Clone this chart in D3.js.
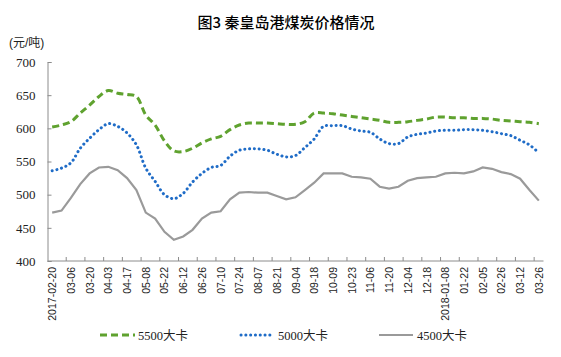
<!DOCTYPE html>
<html><head><meta charset="utf-8">
<script src="https://cdn.jsdelivr.net/npm/d3@7"></script>
<style>
html,body{margin:0;padding:0;background:#fff;}
svg{display:block;}
</style></head>
<body>
<svg id="chart" width="561" height="357"></svg>
<script>
const title = "图3 秦皇岛港煤炭价格情况";
const unitLabel = "(元/吨)";
const categories = [
 "2017-02-20","2017-02-27","2017-03-06","2017-03-13","2017-03-20","2017-03-27","2017-04-03","2017-04-10","2017-04-17","2017-04-24",
 "2017-05-08","2017-05-15","2017-05-22","2017-06-05","2017-06-12","2017-06-19","2017-06-26","2017-07-03","2017-07-10","2017-07-17",
 "2017-07-24","2017-07-31","2017-08-07","2017-08-14","2017-08-21","2017-08-28","2017-09-04","2017-09-11","2017-09-18","2017-09-25",
 "2017-10-09","2017-10-16","2017-10-23","2017-10-30","2017-11-06","2017-11-13","2017-11-20","2017-11-27","2017-12-04","2017-12-11",
 "2017-12-18","2017-12-25","2018-01-08","2018-01-15","2018-01-22","2018-01-29","2018-02-05","2018-02-12","2018-02-26","2018-03-05",
 "2018-03-12","2018-03-19","2018-03-26"];
const seriesNames = ["5500大卡","5000大卡","4500大卡"];
const s5500 = [602,605,610,623,635,648,657,653,651,648,620,605,581,566,565,570,578,584,588,598,605,608,608,608,607,606,606,610,623,623,622,620,618,616,614,612,609,609,610,612,614,617,617,616,616,615,615,614,612,611,610,609,607];
const s5000 = [536,540,548,570,585,598,607,603,593,575,540,520,500,494,502,519,532,541,544,558,567,569,569,567,561,557,559,571,584,603,604,604,599,596,594,584,577,577,587,591,593,596,597,597,598,598,597,595,592,589,582,575,563];
const s4500 = [473,476,495,516,532,541,542,537,525,507,473,464,444,432,437,447,464,473,475,493,503,504,503,503,498,493,496,507,518,532,532,532,527,526,524,512,509,512,521,525,526,527,532,533,532,535,541,539,534,531,524,507,491];
const yTicks = [400,450,500,550,600,650,700];

const svg = d3.select("#chart");
const mLeft = 47.5, mRight = 543.5, mTop = 62, mBottom = 261;
const x = d3.scaleBand().domain(categories).range([mLeft, mRight]).padding(0);
const y = d3.scaleLinear().domain([400,700]).range([mBottom, mTop]);
const cx = d => x(d) + x.bandwidth()/2;

svg.append("text").attr("x", 286).attr("y", 28).attr("text-anchor","middle")
  .attr("font-family","'Noto Sans CJK SC', sans-serif").attr("font-size",15).attr("font-weight",500)
  .attr("fill","#000").text(title);
svg.append("text").attr("x", 9).attr("y", 47)
  .attr("font-family","'Liberation Sans','Noto Sans CJK SC', sans-serif").attr("font-size",12)
  .attr("fill","#222").text(unitLabel);

// y axis
const yAxis = d3.axisLeft(y).tickValues(yTicks).tickSize(-4).tickPadding(12).tickFormat(d3.format("d"));
const gy = svg.append("g").attr("transform",`translate(${mLeft},0)`).call(yAxis);
gy.select(".domain").attr("stroke","#8c8c8c");
gy.selectAll(".tick line").attr("stroke","#8c8c8c");
gy.selectAll(".tick text").attr("font-family","'Liberation Serif', serif").attr("font-size",13).attr("fill","#222");

// x axis
const tickCats = categories.filter((d,i)=> i%2===1);
const xAxisTicks = d3.axisBottom(x).tickValues(tickCats).tickSize(-4).tickFormat("");
const gx = svg.append("g").attr("transform",`translate(0,${mBottom})`).call(xAxisTicks);
gx.selectAll(".tick").attr("transform", d => `translate(${x(d)+x.bandwidth()},0)`);
gx.select(".domain").attr("stroke","#8c8c8c").attr("d",`M${mLeft},0H${mRight}`);
gx.selectAll(".tick line").attr("stroke","#8c8c8c");
// labels
const labelCats = categories.filter((d,i)=> i%2===0);
const fmt = (d,i) => (i===0 || d.slice(0,4)!==labelCats[i-1].slice(0,4)) ? d : d.slice(5);
svg.append("g").selectAll("text").data(labelCats).join("text")
  .attr("transform", d => `translate(${cx(d)+4},${mBottom+6}) rotate(-90)`)
  .attr("text-anchor","end")
  .attr("font-family","'Liberation Sans', sans-serif").attr("font-size",10.5)
  .attr("fill","#222")
  .text((d,i)=>fmt(d,i));

// lines
const smooth = d3.line().x((d,i)=>cx(categories[i])).y(d=>y(d)).curve(d3.curveCatmullRom.alpha(0.5));
const straight = d3.line().x((d,i)=>cx(categories[i])).y(d=>y(d));
const colors = ["#5fa22f","#1f6cc7","#9a9a9a"];
svg.append("path").attr("d", straight(s4500)).attr("fill","none").attr("stroke",colors[2]).attr("stroke-width",2.2);
svg.append("path").attr("d", smooth(s5000)).attr("fill","none").attr("stroke",colors[1]).attr("stroke-width",3)
  .attr("stroke-dasharray","0.1 4.7").attr("stroke-linecap","round");
svg.append("path").attr("d", smooth(s5500)).attr("fill","none").attr("stroke",colors[0]).attr("stroke-width",3)
  .attr("stroke-dasharray","7 4");

// legend
const lg = svg.append("g");
const legendItems = [
  {x0:100, x1:135, tx:138, c:colors[0], dash:"7 4", cap:"butt", w:3},
  {x0:241, x1:273, tx:278, c:colors[1], dash:"0.1 4.7", cap:"round", w:3},
  {x0:379, x1:413, tx:417, c:colors[2], dash:null, cap:"butt", w:2.2}
];
legendItems.forEach((it,i)=>{
  lg.append("line").attr("x1",it.x0).attr("x2",it.x1).attr("y1",335).attr("y2",335)
    .attr("stroke",it.c).attr("stroke-width",it.w).attr("stroke-dasharray",it.dash).attr("stroke-linecap",it.cap);
  lg.append("text").attr("x",it.tx).attr("y",339.5)
    .attr("font-family","'Liberation Serif','Noto Sans CJK SC', serif").attr("font-size",12.5).attr("fill","#222")
    .text(seriesNames[i]);
});
</script>
</body></html>
